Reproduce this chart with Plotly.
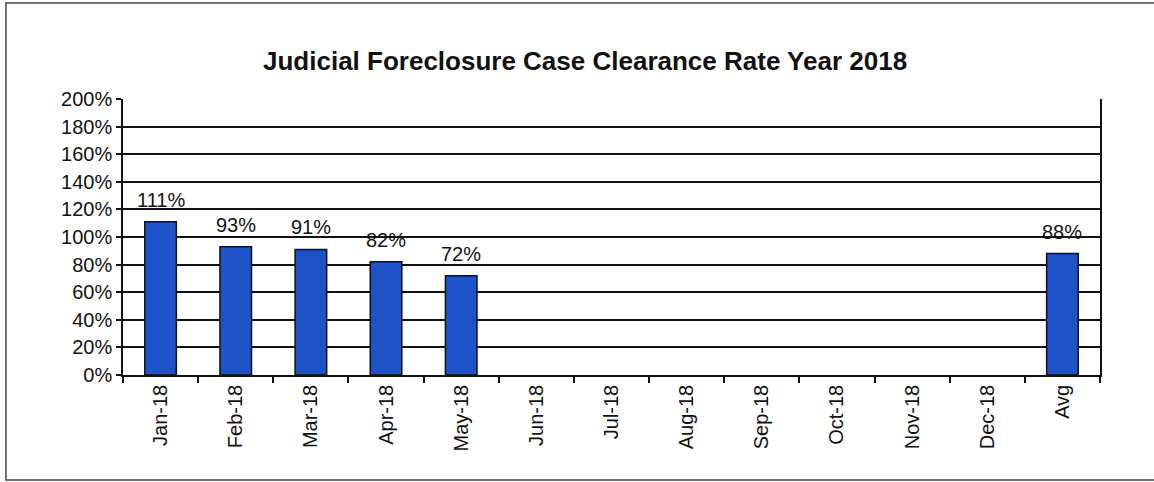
import plotly.graph_objects as go

categories = ["Jan-18", "Feb-18", "Mar-18", "Apr-18", "May-18", "Jun-18", "Jul-18",
              "Aug-18", "Sep-18", "Oct-18", "Nov-18", "Dec-18", "Avg"]
values = [1.11, 0.93, 0.91, 0.82, 0.72, None, None, None, None, None, None, None, 0.88]
y_ticks = [0, 0.2, 0.4, 0.6, 0.8, 1.0, 1.2, 1.4, 1.6, 1.8, 2.0]
y_tick_labels = ["0%", "20%", "40%", "60%", "80%", "100%", "120%", "140%", "160%", "180%", "200%"]
title = "Judicial Foreclosure Case Clearance Rate Year 2018"

FONT = "Liberation Sans, Arial, sans-serif"

fig = go.Figure()
fig.add_trace(go.Bar(
    x=categories, y=values,
    marker=dict(color="#1d52c8", line=dict(color="#111111", width=1.5)),
    width=0.42,
    hoverinfo="x+y",
))

annotations = []
for c, v in zip(categories, values):
    if v is not None:
        annotations.append(dict(
            x=c, y=v, xref="x", yref="y", text=f"{round(v*100)}%",
            showarrow=False, yanchor="bottom", yshift=9,
            font=dict(family=FONT, size=20, color="#111111"),
        ))
annotations.append(dict(
    x=0.473, y=1.0, xref="paper", yref="paper", yshift=38, text=f"<b>{title}</b>",
    showarrow=False, yanchor="middle", xanchor="center",
    font=dict(family=FONT, size=26, color="#111111"),
))

fig.update_layout(
    width=1154, height=482,
    margin=dict(l=123, r=54, t=99, b=107),
    paper_bgcolor="white", plot_bgcolor="white",
    showlegend=False,
    annotations=annotations,
    shapes=[dict(type="rect", xref="paper", yref="paper",
                 x0=-0.1198, x1=1.0594, y0=-0.3804, y1=1.3478,
                 line=dict(color="#444444", width=1.5), fillcolor="rgba(0,0,0,0)")],
    xaxis=dict(
        type="category", categoryorder="array", categoryarray=categories,
        range=[-0.5, 12.5],
        tickangle=-90, tickson="boundaries", ticks="outside", ticklen=6,
        tickcolor="#111111", tickwidth=1.5,
        showline=True, linecolor="#111111", linewidth=1.5, mirror=False,
        showgrid=False,
        tickfont=dict(family=FONT, size=20, color="#111111"),
    ),
    yaxis=dict(
        range=[0, 2.0], tickvals=y_ticks, ticktext=y_tick_labels,
        ticks="outside", ticklen=5, tickcolor="#111111", tickwidth=1.5,
        showline=True, linecolor="#111111", linewidth=1.5, mirror=True,
        showgrid=True, gridcolor="#111111", gridwidth=1.5,
        zeroline=False,
        tickfont=dict(family=FONT, size=20, color="#111111"),
    ),
)

fig.write_html("out.html", config={"displayModeBar": False},
               post_script="document.body.style.margin='0px';")
